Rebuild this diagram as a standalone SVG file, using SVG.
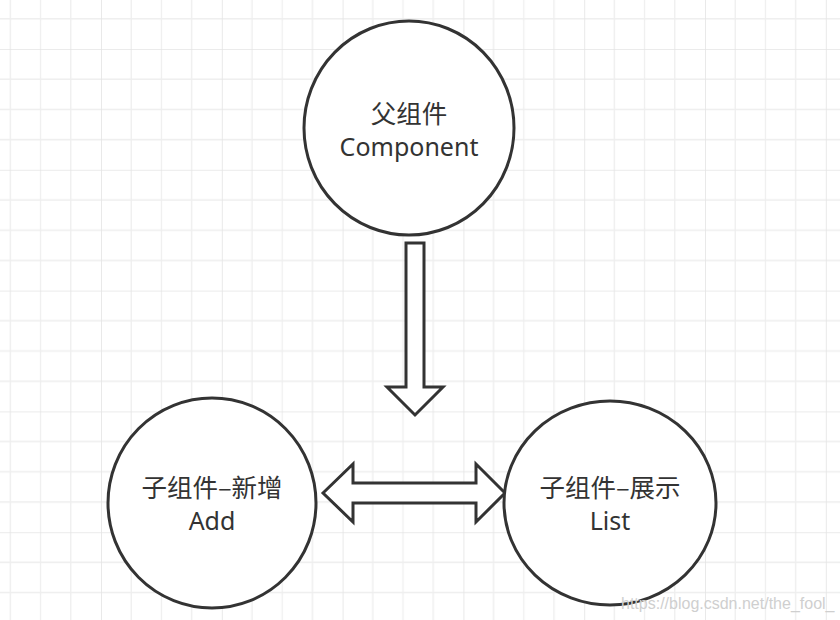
<svg xmlns="http://www.w3.org/2000/svg" width="840" height="620" viewBox="0 0 840 620">
  <defs>
    <pattern id="grid" patternUnits="userSpaceOnUse" x="-19.8" y="-71.8" width="120.8" height="120.8">
      <g stroke="#eeeeee" stroke-width="1.3">
        <line x1="30.2" y1="0" x2="30.2" y2="120.8"/>
        <line x1="60.4" y1="0" x2="60.4" y2="120.8"/>
        <line x1="90.6" y1="0" x2="90.6" y2="120.8"/>
        <line x1="0" y1="30.2" x2="120.8" y2="30.2"/>
        <line x1="0" y1="60.4" x2="120.8" y2="60.4"/>
        <line x1="0" y1="90.6" x2="120.8" y2="90.6"/>
      </g>
      <g stroke="#e4e4e4" stroke-width="1.6">
        <line x1="0" y1="0" x2="0" y2="120.8"/>
        <line x1="0" y1="0" x2="120.8" y2="0"/>
      </g>
    </pattern>
    <style>
      .node { fill: #ffffff; stroke: #333333; stroke-width: 3; }
      .arrow { fill: #ffffff; stroke: #333333; stroke-width: 3; stroke-linejoin: miter; }
      .cjk { font-family: "Noto Sans CJK SC", "Noto Sans", sans-serif; font-size: 25.5px; fill: #333333; text-anchor: middle; }
      .lat { font-family: "Noto Sans", "Noto Sans CJK SC", sans-serif; font-size: 25px; fill: #333333; text-anchor: middle; }
      .wm { font-family: "Liberation Sans", Arial, sans-serif; font-size: 16px; fill: #cfcfcf; }
    </style>
  </defs>
  <rect x="0" y="0" width="840" height="620" fill="#ffffff"/>
  <rect x="0" y="0" width="840" height="620" fill="url(#grid)"/>

  <g id="connectors">
    <polygon class="arrow" points="406,243 424,243 424,387 443,387 415,415 387,387 406,387"/>
    <polygon class="arrow" points="323,493 353,464 353,483 476,483 476,464 505,493 476,522 476,503 353,503 353,522"/>
  </g>

  <g id="node-parent">
    <ellipse class="node" cx="409" cy="128" rx="105" ry="107"/>
    <text class="cjk" x="409" y="123">父组件</text>
    <text class="lat" x="409" y="156">Component</text>
  </g>

  <g id="node-add">
    <ellipse class="node" cx="212" cy="503" rx="104" ry="105"/>
    <text class="cjk" x="212" y="497">子组件–新增</text>
    <text class="lat" x="212" y="530">Add</text>
  </g>

  <g id="node-list">
    <ellipse class="node" cx="610" cy="503" rx="106" ry="102"/>
    <text class="cjk" x="610" y="497">子组件–展示</text>
    <text class="lat" x="610" y="530">List</text>
  </g>

  <text class="wm" x="621" y="609">https://blog.csdn.net/the_fool_</text>
</svg>
